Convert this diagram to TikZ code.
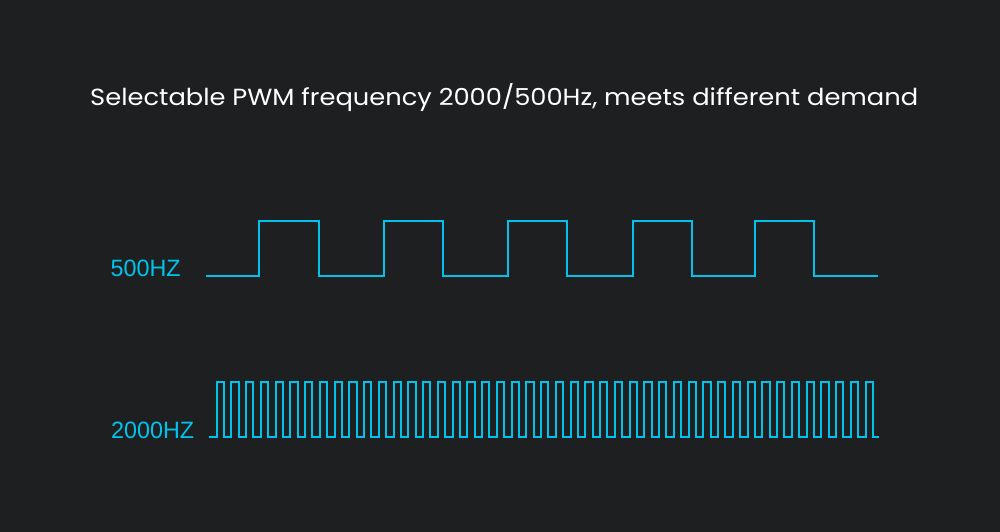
\documentclass[tikz,border=0pt]{standalone}
\usepackage{fontspec}
\setmainfont{Poppins}
\newfontfamily\labfont{Liberation Sans}
\definecolor{bg}{RGB}{30,31,33}
\definecolor{wave}{RGB}{0,195,235}
\tikzset{
  wavestyle/.style={draw=wave, line width=2pt, line join=miter},
  lab/.style={anchor=base west, inner sep=0pt, text=wave, font=\labfont},
}
\begin{document}
\begin{tikzpicture}[x=1pt,y=-1pt]
\fill[bg] (0,0) rectangle (1000,532);
\useasboundingbox (0,0) rectangle (1000,532);
\node[anchor=base west, inner sep=0pt, text=white] (title) at (90,106)
  {\resizebox{828pt}{22pt}{Selectable PWM frequency 2000/500Hz, meets different demand}};
\node[lab] (l500) at (110.5,276.5) {\resizebox{70pt}{16.5pt}{500HZ}};
\node[lab] (l2000) at (111,438) {\resizebox{83pt}{16.5pt}{2000HZ}};
% 500 Hz
\draw[wavestyle] (206,275.5)
  foreach \r/\f in {259/318.5, 383.5/443, 508/567, 632.5/691.5, 754.5/814}
  { -- (\r,275.5) -- (\r,221) -- (\f,221) -- (\f,275.5) } -- (878,275.5);
% 2000 Hz
\draw[wavestyle] (209,437.3)
  foreach \k in {0,...,44}
  { -- ({216.5+14.75*\k},437.3) -- ({216.5+14.75*\k},382) -- ({223.9+14.75*\k},382) -- ({223.9+14.75*\k},437.3) } -- (879,437.3);
\end{tikzpicture}
\end{document}
